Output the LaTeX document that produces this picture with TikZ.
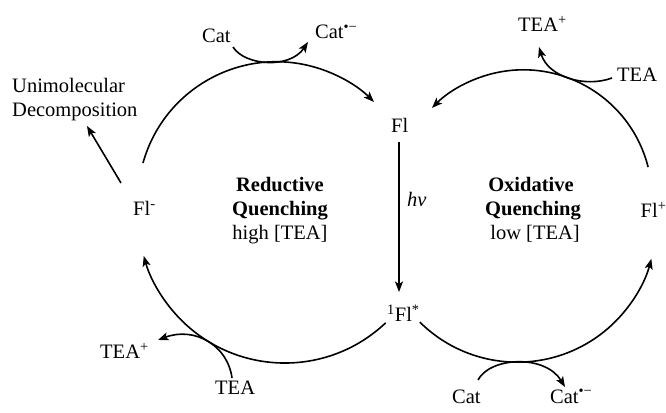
\documentclass[tikz,border=0pt]{standalone}
\usepackage{fontspec}
\setmainfont{Liberation Serif}
\usetikzlibrary{arrows.meta}
\tikzset{
  lbl/.style={inner sep=0pt, anchor=base west, font=\fontsize{20.5}{24.5}\selectfont},
  clbl/.style={inner sep=0pt, anchor=base, font=\fontsize{20.5}{24.5}\selectfont},
  cyc/.style={line width=1.6pt, -{Stealth[length=10.5pt,width=8pt,inset=2.5pt]}},
}
\begin{document}
\begin{tikzpicture}[x=1pt,y=1pt]
\useasboundingbox (0,0) rectangle (666,412);
% labels
\node[lbl] (cat1) at (202,369) {Cat};
\node[lbl] (catm1) at (315,373) {Cat\textsuperscript{•−}};
\node[lbl] (fl) at (391,279) {Fl};
\node[lbl] (teap1) at (518,380) {TEA\textsuperscript{+}};
\node[lbl] (tea1) at (617,330) {TEA};
\node[lbl] (uni) at (12,319) {Unimolecular};
\node[lbl] (dec) at (12,295) {Decomposition};
\node[lbl] (flm) at (133,196) {Fl\textsuperscript{-}};
\node[clbl] (red) at (280,220) {\bfseries Reductive};
\node[clbl] (redq) at (280,196) {\bfseries Quenching};
\node[clbl] (high) at (280,172) {high [TEA]};
\node[lbl] (hv) at (407,205) {\itshape hv};
\node[clbl] (oxi) at (531,220) {\bfseries Oxidative};
\node[clbl] (oxiq) at (533,196) {\bfseries Quenching};
\node[clbl] (low) at (535,172) {low [TEA]};
\node[lbl] (flp) at (640.5,194) {Fl\textsuperscript{+}};
\node[lbl] (flx) at (387,90) {\textsuperscript{1}Fl\textsuperscript{*}};
\node[lbl] (teap2) at (100,53) {TEA\textsuperscript{+}};
\node[lbl] (tea2) at (215,18) {TEA};
\node[lbl] (cat2) at (452,9) {Cat};
\node[lbl] (catm2) at (550,9) {Cat\textsuperscript{•−}};
% arc start points
\coordinate (tl) at (143,249);
\coordinate (bl) at (385.7,89.2);
\coordinate (tr) at (648.1,244.9);
\coordinate (br) at (419.8,89.9);
% main cycle arcs
\draw[cyc] (tl) arc[start angle=164.4, end angle=45.2, radius=138.5];
\draw[cyc] (bl) arc[start angle=-46.5, end angle=-164.4, radius=146.5];
\draw[cyc] (tr) arc[start angle=14.1, end angle=135.3, radius=128.6];
\draw[cyc] (br) arc[start angle=-134.7, end angle=-14.7, radius=138.6];
% hv arrow
\coordinate (hvs) at (399,270);
\coordinate (hve) at (399,120);
\draw[cyc] (hvs) -- (hve);
% decomposition arrow
\coordinate (ds) at (121,229);
\coordinate (de) at (87,286);
\draw[cyc] (ds) -- (de);
% side reactions
\coordinate (c1s) at (233,365);
\coordinate (c1e) at (308,370);
\draw[cyc] (c1s) .. controls (245,346) and (290,343) .. (c1e);
\coordinate (t1s) at (612,334);
\coordinate (t1e) at (539,365);
\draw[cyc] (t1s) .. controls (585,324) and (548,335) .. (t1e);
\coordinate (t2s) at (232,34);
\coordinate (t2e) at (158,72);
\draw[cyc] (t2s) .. controls (228,66) and (195,86) .. (t2e);
\coordinate (c2s) at (478,32);
\coordinate (c2e) at (565,25);
\draw[cyc] (c2s) .. controls (490,55) and (545,58) .. (c2e);
\end{tikzpicture}
\end{document}
